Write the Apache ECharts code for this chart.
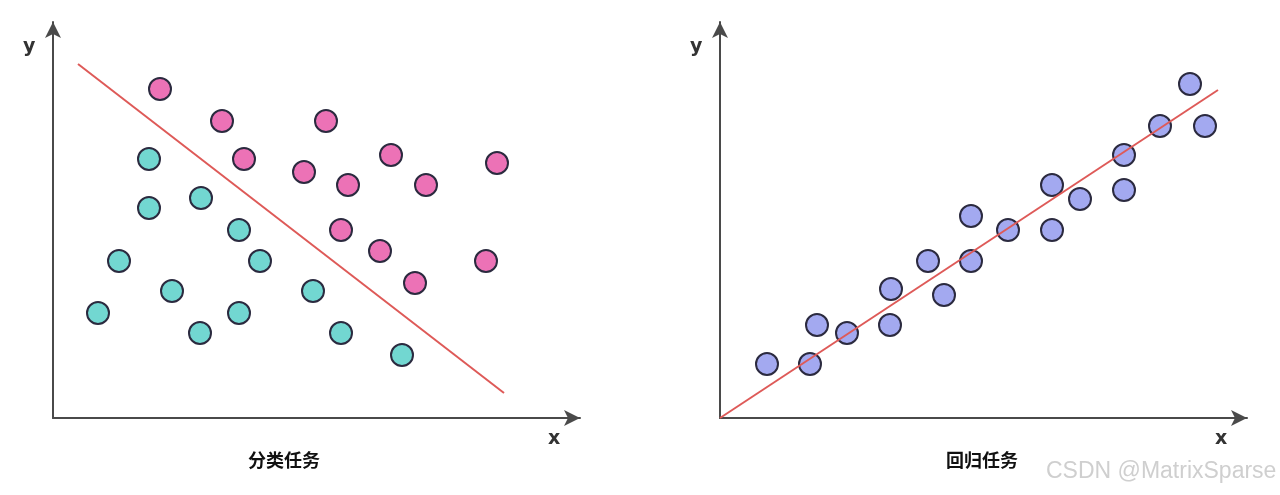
<!DOCTYPE html>
<html>
<head>
<meta charset="utf-8">
<script src="https://cdn.jsdelivr.net/npm/echarts@6/dist/echarts.min.js"></script>
<style>
html,body{margin:0;padding:0;background:#fff;}
#main{width:1280px;height:495px;}
</style>
</head>
<body>
<div id="main"></div>
<script>
// Classification task (left): [x, y]
const pinkPoints = [[107,329],[169,297],[273,297],[191,259],[251,246],[338,263],[295,233],[373,233],[444,255],[288,188],[327,167],[362,135],[433,157]];
const tealPoints = [[96,259],[96,210],[148,220],[186,188],[66,157],[207,157],[119,127],[45,105],[186,105],[260,127],[147,85],[288,85],[349,63]];
const boundaryLine = [[25,354],[451,25]];
// Regression task (right)
const bluePoints = [[47,54],[90,54],[97,93],[127,85],[170,93],[171,129],[208,157],[224,123],[251,202],[251,157],[288,188],[332,233],[332,188],[360,219],[404,263],[404,228],[440,292],[470,334],[485,292]];
const fitLine = [[0,0],[498,328]];
const xMax = 527, yMax = 396;
const titles = ['分类任务', '回归任务'];

const chart = echarts.init(document.getElementById('main'));
const axisLine = {show:true, lineStyle:{color:'#4a4a4a', width:2}, symbol:['none','arrow'], symbolSize:[12,16]};
function xa(i){return {type:'value', gridIndex:i, min:0, max:xMax, axisLine:axisLine, axisTick:{show:false}, axisLabel:{show:false}, splitLine:{show:false}};}
function ya(i){return {type:'value', gridIndex:i, min:0, max:yMax, axisLine:axisLine, axisTick:{show:false}, axisLabel:{show:false}, splitLine:{show:false}};}
const pt = (color) => ({color:color, borderColor:'#2b2a3f', borderWidth:2, opacity:1});
chart.setOption({
  animation:false,
  grid:[{left:53, top:22, width:527, height:396},{left:720, top:22, width:527, height:396}],
  xAxis:[xa(0), xa(1)],
  yAxis:[ya(0), ya(1)],
  series:[
    {type:'scatter', xAxisIndex:0, yAxisIndex:0, data:pinkPoints, symbolSize:22, itemStyle:pt('#ec72b6'), z:2},
    {type:'scatter', xAxisIndex:0, yAxisIndex:0, data:tealPoints, symbolSize:22, itemStyle:pt('#72d7d1'), z:2},
    {type:'line', xAxisIndex:0, yAxisIndex:0, data:boundaryLine, symbol:'none', lineStyle:{color:'#de5a58', width:2}, z:3},
    {type:'scatter', xAxisIndex:1, yAxisIndex:1, data:bluePoints, symbolSize:22, itemStyle:pt('#a3a9f0'), z:2},
    {type:'line', xAxisIndex:1, yAxisIndex:1, data:fitLine, symbol:'none', lineStyle:{color:'#de5a58', width:2}, z:3}
  ],
  graphic:[
    {type:'text', left:23, top:38, style:{text:'y', font:'bold 19px "DejaVu Sans", sans-serif', fill:'#333'}},
    {type:'text', left:548, top:430, style:{text:'x', font:'bold 19px "DejaVu Sans", sans-serif', fill:'#333'}},
    {type:'text', left:690, top:38, style:{text:'y', font:'bold 19px "DejaVu Sans", sans-serif', fill:'#333'}},
    {type:'text', left:1215, top:430, style:{text:'x', font:'bold 19px "DejaVu Sans", sans-serif', fill:'#333'}},
    {type:'text', left:248, top:451, style:{text:titles[0], font:'bold 18px "Noto Sans CJK SC", sans-serif', fill:'#111'}},
    {type:'text', left:946, top:451, style:{text:titles[1], font:'bold 18px "Noto Sans CJK SC", sans-serif', fill:'#111'}},
    {type:'text', left:1046, top:460, style:{text:'CSDN @MatrixSparse', font:'23px "Liberation Sans", Arial, sans-serif', fill:'#cfcfcf'}}
  ]
});
</script>
</body>
</html>
